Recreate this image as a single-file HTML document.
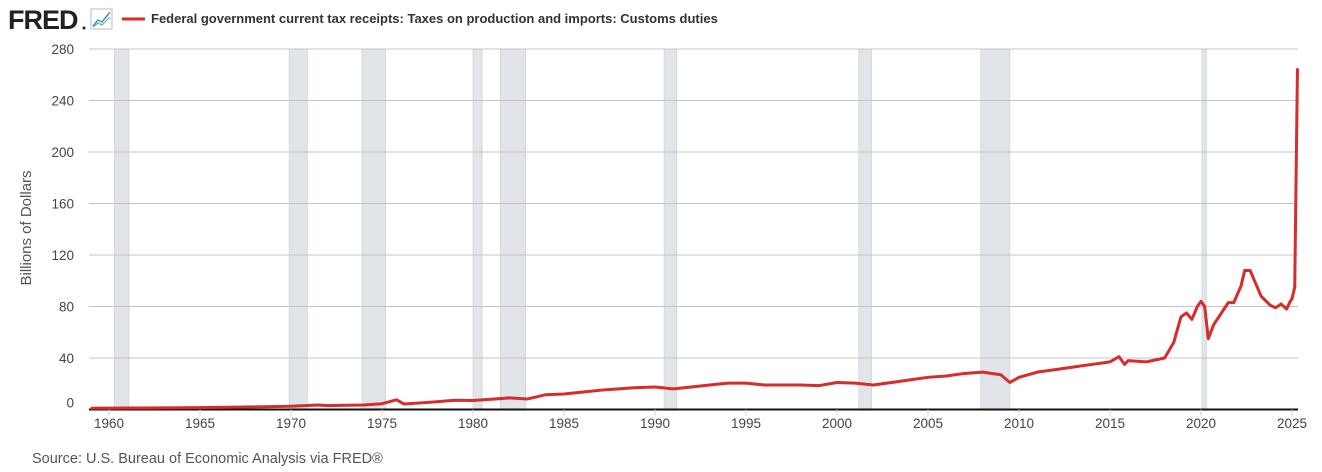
<!DOCTYPE html>
<html><head><meta charset="utf-8"><style>
body{margin:0;background:#fff;width:1322px;height:467px;overflow:hidden;font-family:"Liberation Sans",sans-serif}
svg text{font-family:"Liberation Sans",sans-serif}
</style></head><body>
<svg id="c" width="1322" height="467">
<text x="8" y="29" font-size="27" font-weight="bold" fill="#222" letter-spacing="-1">FRED</text>
<circle cx="84" cy="28" r="1.5" fill="#222"/>
<g><rect x="91" y="9" width="21" height="20" fill="#fff" stroke="#bbb"/><polyline points="93,26 98,20 102,22 110,12" fill="none" stroke="#4a90c8" stroke-width="1.5"/><polyline points="93,27 98,23 102,25 110,17" fill="none" stroke="#5cb88a" stroke-width="1.2"/></g>
<line x1="122" y1="19" x2="145" y2="19" stroke="#d62c2c" stroke-width="3"/>
<text x="151" y="23" font-size="13" font-weight="bold" fill="#333">Federal government current tax receipts: Taxes on production and imports: Customs duties</text>
<text transform="translate(31,228) rotate(-90)" text-anchor="middle" font-size="15" fill="#555">Billions of Dollars</text>
<text x="32" y="463" font-size="14.5" fill="#555">Source: U.S. Bureau of Economic Analysis via FRED®</text>
<g id="rec"></g><g id="grid"></g><g id="ticks"></g><g id="series"></g>
</svg>
<script>
const yTicks=[0,40,80,120,160,200,240,280];
const xTicks=[1960,1965,1970,1975,1980,1985,1990,1995,2000,2005,2010,2015,2020,2025];
const recStart=[1960.3,1969.9,1973.9,1980.0,1981.5,1990.5,2001.2,2007.9,2020.05];
const recEnd=[1961.1,1970.9,1975.2,1980.5,1982.9,1991.2,2001.9,2009.5,2020.3];
const years=[1959.0,1962,1965,1968,1970,1971.5,1972,1973,1974,1975,1975.8,1976.2,1977,1978,1979,1980,1981,1982,1983,1984,1985,1986,1987,1988,1989,1990,1991,1992,1993,1994,1995,1996,1997,1998,1999,2000,2001,2002,2003,2004,2005,2006,2007,2008,2009,2009.5,2010,2011,2012,2013,2014,2015,2015.5,2015.8,2016,2017,2018,2018.5,2018.9,2019.2,2019.5,2019.8,2020.0,2020.2,2020.4,2020.7,2021.5,2021.8,2022.2,2022.4,2022.7,2023,2023.3,2023.8,2024.1,2024.4,2024.7,2024.9,2025.0,2025.15,2025.3];
const values=[1.0,1.2,1.5,2.0,2.5,3.5,3.0,3.3,3.5,4.5,7.5,4.3,5.0,6.0,7.2,7.0,8.0,9.0,8.2,11.5,12.0,13.5,15.0,16.0,17.0,17.5,16.0,17.5,19.0,20.5,20.5,19.0,19.0,19.0,18.5,21.0,20.5,19.0,21.0,23.0,25.0,26.0,28.0,29.0,27.0,21.0,25.0,29.0,31.0,33.0,35.0,37.0,41.0,35.0,38.0,37.0,40.0,52.0,72.0,75.0,70.0,80.0,84.0,80.0,55.0,66.0,83.0,83.0,96.0,108.0,108.0,98.0,88.0,81.0,79.0,82.0,78.0,84.0,86.0,95.0,265.0];
const X0=89,X1=1298,Y0=409.5;
const x=v=>109+(v-1960)*18.2;
const y=v=>Y0-v*51.5/40;
const NS="http://www.w3.org/2000/svg";
function mk(t,p,a){const e=document.createElementNS(NS,t);for(const k in a)e.setAttribute(k,a[k]);p.appendChild(e);return e;}
const rec=document.getElementById('rec'),grid=document.getElementById('grid'),tk=document.getElementById('ticks'),se=document.getElementById('series');
recStart.forEach((s,i)=>{const r=mk('rect',rec,{x:x(s),y:y(280),width:Math.max(2.5,x(recEnd[i])-x(s)),height:Y0-y(280),fill:'#e1e5ea',stroke:'#c8ccd2','stroke-width':0.6});

});
yTicks.forEach(v=>{if(v>0){const l=mk('line',grid,{x1:X0,x2:X1,y1:y(v),y2:y(v),stroke:'#c4c4c4','stroke-width':1});

}
const t=mk('text',tk,{x:74,y:y(v)+(v==0?-2:5),'text-anchor':'end','font-size':13.5,fill:'#444'});t.textContent=v;

});
const ax=mk('line',tk,{x1:X0,x2:X1,y1:Y0,y2:Y0,stroke:'#111','stroke-width':2});


xTicks.forEach(v=>{mk('line',tk,{x1:x(v),x2:x(v),y1:Y0,y2:Y0+6,stroke:'#c0d0e8','stroke-width':1});
const t=mk('text',tk,{x:x(v),y:428,'text-anchor':'middle','font-size':13.5,fill:'#444'});t.textContent=v;

});
const p=mk('polyline',se,{points:years.map((yr,i)=>x(yr)+','+y(values[i])).join(' '),fill:'none',stroke:'#d62c2c','stroke-width':3,'stroke-linejoin':'round'});


</script>
</body></html>
